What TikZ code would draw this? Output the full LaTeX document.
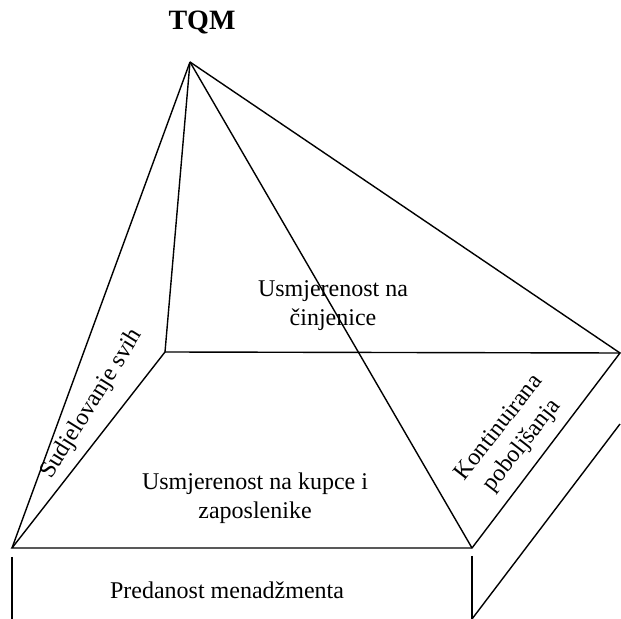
\documentclass[tikz,border=0pt]{standalone}
\usepackage{fontspec}
\setmainfont{Liberation Serif}
\usetikzlibrary{positioning}
\tikzstyle{facetext} = [text centered, align=center, font=\fontsize{12}{14.5}\selectfont]
\tikzstyle{line} = [draw, line width=0.7pt]

\begin{document}
\begin{tikzpicture}[x=0.5pt, y=-0.5pt]
    \useasboundingbox (0,0) rectangle (621,619);

    % Place corners
    \coordinate (apex) at (190,62);
    \coordinate (front-left) at (12,548);
    \coordinate (front-right) at (472,548);
    \coordinate (back-right) at (620,353);
    \coordinate (back-left) at (165,352);
    \coordinate (slab-left-top) at (12,557);
    \coordinate (slab-left-bottom) at (12,619);
    \coordinate (slab-right-top) at (472,556);
    \coordinate (slab-right-bottom) at (472,619);
    \coordinate (slab-back) at (620,424);

    % Place nodes
    \node [font=\bfseries\fontsize{14}{16}\selectfont] (tqm) at (202,23) {TQM};
    \node [facetext] (facts) at (333,306) {Usmjerenost na\\činjenice};
    \node [facetext] (customers) at (255,498) {Usmjerenost na kupce i\\zaposlenike};
    \node [facetext] (management) at (227,590) {Predanost menadžmenta};
    \node [facetext, rotate=58] (participation) at (92,404) {Sudjelovanje svih};
    \node [facetext, rotate=52] (improvement) at (511,437) {Kontinuirana\\poboljšanja};

    % Draw edges
    \path [line] (front-left) -- (front-right) -- (back-right) -- (back-left) -- cycle;
    \path [line] (apex) -- (front-left);
    \path [line] (apex) -- (back-left);
    \path [line] (apex) -- (front-right);
    \path [line] (apex) -- (back-right);
    \path [line] (slab-left-top) -- (slab-left-bottom);
    \path [line] (slab-right-top) -- (slab-right-bottom);
    \path [line] (slab-right-bottom) -- (slab-back);
\end{tikzpicture}
\end{document}
